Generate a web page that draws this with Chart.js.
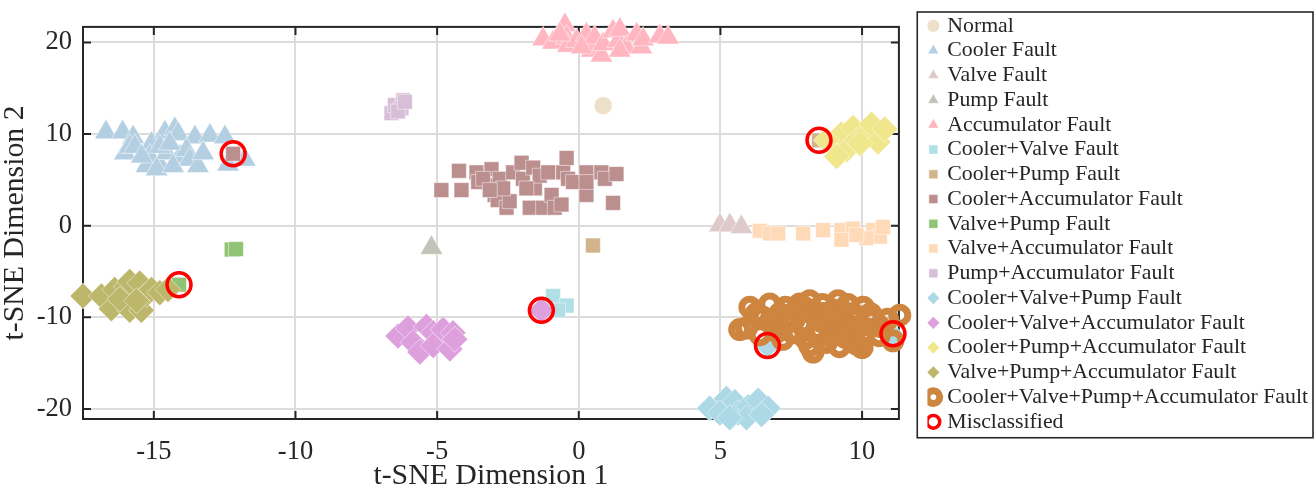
<!DOCTYPE html>
<html>
<head>
<meta charset="utf-8">
<script src="https://cdn.jsdelivr.net/npm/chart.js@4.4.1/dist/chart.umd.min.js"></script>
<style>
  html, body { margin: 0; padding: 0; background: #fff; }
  #wrap { width: 1315px; height: 492px; }
</style>
</head>
<body>
<div id="wrap"><canvas id="tsne" width="1315" height="492"></canvas></div>
<script>
// tick labels
const xTicks = [-15, -10, -5, 0, 5, 10];
const yTicks = [-20, -10, 0, 10, 20];

// points, [x, y]
const normal = [[0.86, 13.1]];
const coolerFault = [
  [-16.69, 10.19], [-16.1, 10.19], [-15.73, 9.66], [-16.02, 7.92], [-15.85, 8.61],
  [-15.67, 8.61], [-15.08, 8.97], [-14.61, 10.19], [-14.26, 10.55], [-14.14, 10.02],
  [-13.55, 9.66], [-13.02, 9.84], [-12.49, 9.66], [-15.14, 7.56], [-15.26, 6.51],
  [-14.79, 6.69], [-14.55, 7.92], [-14.08, 7.56], [-13.85, 8.27], [-13.73, 7.22],
  [-13.44, 6.51], [-13.26, 7.92], [-14.79, 8.61], [-14.44, 8.97], [-14.9, 6.17],
  [-14.32, 6.51], [-12.38, 6.69], [-11.79, 7.22], [-15.43, 7.56]
];
const valveFault = [[4.98, 0.04], [5.33, 0.04], [5.74, -0.14]];
const pumpFault = [[-5.2, -2.42]];
const accumulatorFault = [
  [-1.26, 20.35], [-0.91, 20.0], [-0.49, 21.92], [-0.43, 20.53], [-0.38, 19.64],
  [-0.08, 20.17], [0.27, 20.87], [0.45, 19.12], [0.56, 20.53], [0.8, 18.59],
  [0.86, 19.82], [1.21, 21.22], [1.39, 20.17], [1.45, 21.4], [1.68, 19.47],
  [2.04, 20.87], [2.21, 19.47], [2.27, 20.35], [2.86, 20.69], [3.15, 20.53],
  [-0.67, 20.87], [0.1, 19.47], [1.45, 19.12]
];
const coolerValve = [[-0.91, -7.67], [-0.43, -8.72], [-0.73, -9.24], [-1.14, -9.24]];
const coolerPump = [[0.5, -2.16], [8.48, 9.32]];
const coolerAccumulator = [
  [-4.85, 3.89], [-4.23, 5.99], [-4.14, 3.89], [-3.61, 5.82], [-3.55, 4.77],
  [-3.08, 6.17], [-2.97, 3.36], [-2.97, 4.41], [-3.38, 5.12], [-2.79, 5.12],
  [-2.86, 2.8], [-2.55, 1.96], [-2.44, 2.67], [-2.32, 5.82], [-2.02, 6.87],
  [-1.97, 5.12], [-1.73, 1.96], [-1.61, 6.34], [-1.55, 4.07], [-1.38, 5.46],
  [-1.26, 1.96], [-1.08, 5.82], [-0.96, 3.36], [-0.85, 1.96], [-0.61, 2.31],
  [-0.55, 5.82], [-0.43, 7.39], [-0.38, 5.12], [-0.2, 4.77], [0.27, 5.82],
  [0.27, 3.36], [0.27, 4.77], [0.8, 5.82], [0.92, 5.12], [1.33, 5.64],
  [1.21, 2.49], [-1.85, 4.07], [-2.67, 4.07], [-3.14, 3.89], [-12.2, 7.85]
];
const valvePump = [[-12.25, -2.6], [-12.1, -2.55], [-14.11, -6.44]];
const valveAccumulator = [
  [6.39, -0.56], [6.74, -0.84], [7.04, -0.84], [7.92, -0.84], [8.62, -0.48],
  [9.27, -0.48], [9.68, -0.32], [9.27, -1.53], [10.39, -0.48], [10.63, -1.19],
  [10.15, -1.37], [9.8, -1.01], [10.74, -0.14]
];
const pumpAccumulator = [[-6.61, 12.29], [-6.49, 13.17], [-6.2, 13.7], [-6.26, 12.82], [-6.38, 12.47], [-6.14, 13.52]];
const coolerValvePump = [
  [4.62, -19.92], [5.21, -18.87], [5.51, -19.22], [4.98, -20.44], [5.62, -20.44],
  [5.98, -19.75], [6.33, -19.05], [6.68, -19.92], [5.92, -20.97], [6.45, -20.62],
  [5.33, -20.97], [6.66, -13.09], [11.09, -12.1]
];
const coolerValveAccumulator = [
  [-6.38, -12.04], [-6.03, -11.17], [-5.85, -12.74], [-5.61, -13.79], [-5.38, -10.99],
  [-5.14, -11.69], [-5.14, -13.09], [-4.79, -11.34], [-4.55, -13.45], [-4.44, -11.69],
  [-4.38, -12.39], [-1.32, -9.24]
];
const coolerPumpAccumulator = [
  [8.98, 8.97], [9.27, 10.02], [9.45, 8.27], [9.68, 10.71], [9.8, 9.32], [10.15, 10.02],
  [10.33, 11.07], [10.56, 9.14], [10.8, 10.55], [9.1, 7.56], [9.93, 8.97], [8.74, 9.32]
];
const valvePumpAccumulator = [
  [-17.5, -7.67], [-16.85, -7.67], [-16.5, -9.07], [-16.38, -6.96], [-15.97, -6.62],
  [-15.85, -6.09], [-15.85, -9.24], [-15.5, -6.26], [-15.44, -9.24], [-15.26, -7.49],
  [-15.08, -6.96], [-14.79, -7.31], [-14.5, -6.96], [-16.2, -8.01], [-15.61, -8.19]
];
const allFaults = [
  [6.04, -8.89], [5.92, -11.17], [6.27, -9.59], [6.74, -8.54], [7.09, -9.59],
  [6.86, -10.64], [7.33, -10.64], [7.8, -8.54], [8.15, -8.19], [8.27, -9.59],
  [7.92, -10.99], [8.39, -11.34], [8.15, -13.09], [8.74, -12.74], [9.15, -8.19],
  [9.33, -9.94], [8.98, -10.64], [9.57, -11.34], [9.8, -12.92], [10.04, -8.89],
  [10.27, -10.29], [10.62, -10.99], [11.33, -9.77], [11.09, -12.56], [7.56, -11.69],
  [7.68, -9.24], [8.62, -9.59], [9.68, -9.59], [7.45, -9.94], [8.86, -12.04],
  [8.27, -13.79], [10.04, -12.39], [5.68, -11.34],
  [6.5, -10.0], [7.0, -11.6], [7.3, -8.9], [7.6, -10.3], [8.0, -9.0],
  [8.5, -10.4], [8.6, -8.6], [8.9, -11.4], [9.0, -9.2], [9.4, -12.2],
  [9.5, -8.6], [9.9, -11.0], [10.3, -9.6], [10.6, -12.0], [10.9, -10.2],
  [8.0, -12.3], [7.2, -12.4], [9.2, -13.2], [6.4, -11.9], [10.0, -13.3]
];
const misclassified = [[-12.2, 7.85], [8.48, 9.32], [-14.11, -6.44], [-1.32, -9.24], [6.66, -13.09], [11.09, -11.8]];

const serif = "'Liberation Serif', 'Times New Roman', serif";
const ink = "#262626";
const edge = "rgba(255,255,255,0.6)";
const legendFont = 21.8;
const legendBox = 6;
const legendPad = 2.95;

function series(label, pts, style, color, radius) {
  return {
    label: label,
    data: pts.map(p => ({ x: p[0], y: p[1] })),
    pointStyle: style,
    backgroundColor: color,
    borderColor: edge,
    borderWidth: 0.8,
    pointRadius: radius,
    clip: false,
  };
}

function ring(label, pts, color, radius, width) {
  return {
    label: label,
    data: pts.map(p => ({ x: p[0], y: p[1] })),
    pointStyle: "circle",
    backgroundColor: "rgba(0,0,0,0)",
    borderColor: color,
    borderWidth: width,
    pointRadius: radius,
    clip: false,
  };
}

const datasets = [
  series("Normal", normal, "circle", "#EEDFC8", 9),
  series("Cooler Fault", coolerFault, "triangle", "#B4CFE2", 13),
  series("Valve Fault", valveFault, "triangle", "#DECACA", 13),
  series("Pump Fault", pumpFault, "triangle", "#C4C3B8", 13),
  series("Accumulator Fault", accumulatorFault, "triangle", "#FFB6C1", 13),
  series("Cooler+Valve Fault", coolerValve, "rect", "#B0E0E6", 10.5),
  series("Cooler+Pump Fault", coolerPump, "rect", "#D2B48C", 10.5),
  series("Cooler+Accumulator Fault", coolerAccumulator, "rect", "#BC8F8F", 10.5),
  series("Valve+Pump Fault", valvePump, "rect", "#90C474", 10.5),
  series("Valve+Accumulator Fault", valveAccumulator, "rect", "#FFDAB9", 10.5),
  series("Pump+Accumulator Fault", pumpAccumulator, "rect", "#D8BFD8", 10.5),
  series("Cooler+Valve+Pump Fault", coolerValvePump, "rectRot", "#ADD8E6", 13),
  series("Cooler+Valve+Accumulator Fault", coolerValveAccumulator, "rectRot", "#DDA0DD", 13),
  series("Cooler+Pump+Accumulator Fault", coolerPumpAccumulator, "rectRot", "#F0E68C", 13),
  series("Valve+Pump+Accumulator Fault", valvePumpAccumulator, "rectRot", "#BDB76B", 13),
  ring("Cooler+Valve+Pump+Accumulator Fault", allFaults, "#CD853F", 8, 7),
  ring("Misclassified", misclassified, "#FF0000", 12, 3.5),
];
// later series on top, like the original plot
datasets.forEach((d, i) => { d.order = datasets.length - 1 - i; });

// box around the axes with inward ticks, box around the legend
const frame = {
  id: "frame",
  beforeDatasetsDraw(chart) {
    const { ctx, chartArea: a, scales } = chart;
    ctx.save();
    ctx.strokeStyle = ink;
    ctx.lineWidth = 2;
    ctx.strokeRect(a.left, a.top, a.right - a.left, a.bottom - a.top);
    ctx.beginPath();
    xTicks.forEach(v => {
      const px = scales.x.getPixelForValue(v);
      ctx.moveTo(px, a.bottom); ctx.lineTo(px, a.bottom - 8);
      ctx.moveTo(px, a.top); ctx.lineTo(px, a.top + 8);
    });
    yTicks.forEach(v => {
      const py = scales.y.getPixelForValue(v);
      ctx.moveTo(a.left, py); ctx.lineTo(a.left + 8, py);
      ctx.moveTo(a.right, py); ctx.lineTo(a.right - 8, py);
    });
    ctx.stroke();
    ctx.restore();
  },
  afterDraw(chart) {
    const lg = chart.legend;
    const boxes = lg.legendHitBoxes;
    const last = boxes[boxes.length - 1];
    const ctx = chart.ctx;
    ctx.save();
    ctx.strokeStyle = ink;
    ctx.lineWidth = 1.6;
    const textStart = lg.left + legendPad + legendBox + legendFont / 2;
    const left = textStart - 30;
    const right = chart.width - 2;
    const bottom = last.top + last.height + 5;
    ctx.strokeRect(left, lg.top, right - left, bottom - lg.top);
    ctx.restore();
  },
};

new Chart(document.getElementById("tsne"), {
  type: "scatter",
  data: { datasets: datasets },
  options: {
    responsive: false,
    animation: false,
    events: [],
    layout: { padding: { top: 12, right: -3, bottom: 0, left: 0 } },
    plugins: {
      tooltip: { enabled: false },
      legend: {
        position: "right",
        align: "start",
        maxWidth: 600,
        labels: {
          usePointStyle: true,
          boxWidth: legendBox,
          boxHeight: 9,
          padding: legendPad,
          color: ink,
          font: { family: serif, size: legendFont },
          sort: (a, b) => a.datasetIndex - b.datasetIndex,
        },
      },
    },
    scales: {
      x: {
        type: "linear",
        min: -17.5,
        max: 11.3,
        afterBuildTicks: axis => { axis.ticks = xTicks.map(v => ({ value: v })); },
        afterFit: axis => { axis.height = 73; },
        grid: { color: "#dcdcdc", lineWidth: 2, drawTicks: false },
        border: { display: false },
        ticks: { color: ink, padding: 17, font: { family: serif, size: 26.5 } },
        title: {
          display: true,
          text: "t-SNE Dimension 1",
          color: ink,
          font: { family: serif, size: 29.8, lineHeight: 1 },
          padding: { top: 0, bottom: 0.5 },
        },
      },
      y: {
        type: "linear",
        min: -21.1,
        max: 21.7,
        afterBuildTicks: axis => { axis.ticks = yTicks.map(v => ({ value: v })); },
        afterFit: axis => { axis.width = 83; },
        grid: { color: "#dcdcdc", lineWidth: 2, drawTicks: false },
        border: { display: false },
        ticks: { color: ink, padding: 11, font: { family: serif, size: 26.5 } },
        title: {
          display: true,
          text: "t-SNE Dimension 2",
          color: ink,
          font: { family: serif, size: 29.8, lineHeight: 1 },
          padding: { top: 0.5, bottom: 0 },
        },
      },
      gap: {
        type: "linear",
        position: "right",
        display: true,
        afterFit: axis => { axis.width = 28.5; },
        grid: { display: false },
        border: { display: false },
        ticks: { display: false },
      },
    },
  },
  plugins: [frame],
});
</script>
</body>
</html>
